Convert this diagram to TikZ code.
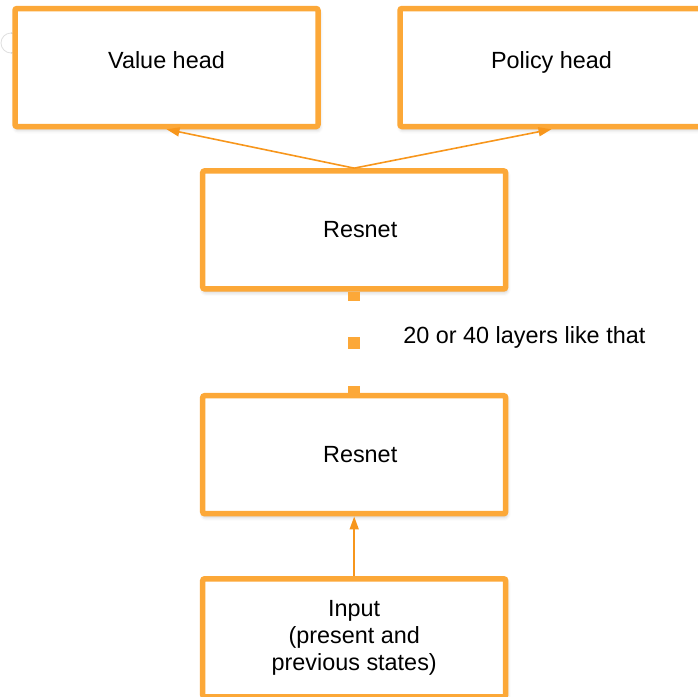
\documentclass[tikz,border=0pt]{standalone}
\usepackage{fontspec}
\setmainfont{Liberation Sans}
\usetikzlibrary{arrows.meta,shadows.blur}
\definecolor{boxorange}{RGB}{252,168,56}
\definecolor{arroworange}{RGB}{247,150,28}

\begin{document}
\begin{tikzpicture}[x=0.5pt, y=-0.5pt, >={Triangle[length=6.5pt,width=4.5pt]}]
    \tikzstyle{box}=[rectangle,draw=boxorange,line width=2.75pt,rounded corners=1pt,fill=white,align=center,minimum width=151.5pt,minimum height=59pt,inner sep=2pt,font=\fontsize{11.7pt}{13.5pt}\selectfont,blur shadow={shadow xshift=0.5pt,shadow yshift=-1.5pt,shadow opacity=25,shadow blur radius=2pt}]
    \tikzstyle{head}=[box,text height=8.5pt,text depth=7.5pt]
    \tikzstyle{link}=[->,draw=arroworange,fill=arroworange,line width=0.8pt]
    \tikzstyle{note}=[font=\fontsize{11.7pt}{13.5pt}\selectfont,anchor=base west,inner sep=0pt]
    \useasboundingbox (0,0) rectangle (698,697);
    \draw[gray!25] (11,43) circle (5pt);
    \node[head] (vhead) at (166.5,67.5) {Value head};
    \node[head] (phead) at (551.5,67.5) {Policy head};
    \node[box] (resA) at (354.2,229.9) {\hspace*{6pt}Resnet};
    \node[box] (resB) at (354.2,454.7) {\hspace*{6pt}Resnet};
    \node[box] (input) at (354.2,637.8) {Input\\(present and\\previous states)};
    \node[note] (layers) at (403,343.3) {20 or 40 layers like that};
    \draw[boxorange,line width=5.85pt,dash pattern=on 5.85pt off 18.4pt,dash phase=1.35pt] (resA.south) -- (resB.north);
    \draw[link] (resA.north) -- (vhead.south);
    \draw[link] (resA.north) -- (phead.south);
    \draw[link] (input.north) -- (resB.south);
\end{tikzpicture}
\end{document}
